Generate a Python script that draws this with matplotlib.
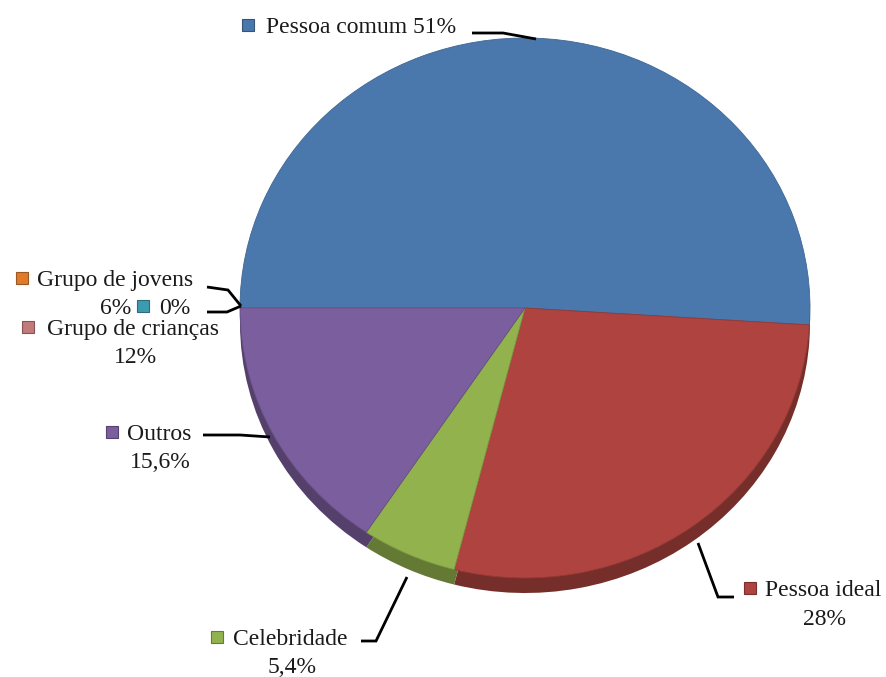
import matplotlib.pyplot as plt
from matplotlib.transforms import Affine2D
from matplotlib.colors import to_rgb

plt.rcParams['font.family'] = ['Liberation Serif', 'DejaVu Serif']

# slice data (clockwise from the 9 o'clock position)
categories = ['Pessoa comum', 'Pessoa ideal', 'Celebridade', 'Outros',
              'Grupo de crianças', '', 'Grupo de jovens']
values = [51, 28, 5.4, 15.6, 0, 0, 0]
value_labels = ['51%', '28%', '5,4%', '15,6%', '12%', '0%', '6%']
colors = ['#4a78ad', '#ae433f', '#91b24d', '#7b5e9d', '#c27a7a', '#3d9bb0', '#e07b2c']

H = 677

def py(y):
    # pixel row -> data y
    return H - y

def darker(c, f=0.55):
    return tuple(v * f for v in to_rgb(c))

fig = plt.figure(figsize=(8.86, 6.77), dpi=100)
ax = fig.add_axes([0, 0, 1, 1])

# tilted pie: elliptical top face plus a darker side underneath
cx, cy, rx, ry, depth = 525, py(308), 285, 270, 15
squash = Affine2D().translate(-cx, -cy).scale(1, ry / rx).translate(cx, cy)

side, _ = ax.pie(values, colors=[darker(c, 0.68) for c in colors], startangle=180,
                 counterclock=False, center=(cx, cy - depth * rx / ry), radius=rx,
                 wedgeprops=dict(linewidth=0))
face, _ = ax.pie(values, colors=colors, startangle=180, counterclock=False,
                 center=(cx, cy), radius=rx,
                 wedgeprops=dict(linewidth=0))
for w in side:
    w.set_transform(squash + ax.transData)
for w, c, v in zip(face, colors, values):
    w.set_transform(squash + ax.transData)
    if v > 0:
        w.set_edgecolor(darker(c, 0.85))
        w.set_linewidth(0.6)

ax.set_xlim(0, 886)
ax.set_ylim(0, H)
ax.set_aspect('equal')
ax.axis('off')

fs = 17
txt = dict(fontsize=fs, color='#1a1a1a', va='center_baseline')

def marker(x, y, c):
    ax.plot(x, py(y), 's', ms=9, color=c, mec=darker(c, 0.7), mew=0.8)

def leader(pts):
    xs = [p[0] for p in pts]
    ys = [py(p[1]) for p in pts]
    ax.plot(xs, ys, color='black', lw=2, solid_capstyle='butt', solid_joinstyle='miter')

# Pessoa comum
marker(248, 25, colors[0])
ax.text(266, py(25), f'{categories[0]} {value_labels[0]}', ha='left', **txt)
leader([(472, 33), (503, 33), (536, 39)])

# Pessoa ideal
marker(750, 588, colors[1])
ax.text(765, py(588), categories[1], ha='left', **txt)
ax.text(825, py(617), value_labels[1], ha='center', **txt)
leader([(698, 543), (718, 597), (734, 597)])

# Celebridade
marker(217, 637, colors[2])
ax.text(233, py(637), categories[2], ha='left', **txt)
ax.text(292, py(665), value_labels[2], ha='center', **txt)
leader([(407, 577), (376, 641), (361, 641)])

# Outros
marker(112, 432, colors[3])
ax.text(127, py(432), categories[3], ha='left', **txt)
ax.text(160, py(460), value_labels[3], ha='center', **txt)
leader([(203, 435), (240, 435), (270, 437)])

# Grupo de jovens
marker(22, 278, colors[6])
ax.text(37, py(278), categories[6], ha='left', **txt)
ax.text(116, py(306), value_labels[6], ha='center', **txt)
leader([(207, 287), (228, 290), (241, 306)])

# unnamed 0% slice
marker(143, 306, colors[5])
ax.text(159, py(306), value_labels[5], ha='left', **txt)
leader([(207, 312), (227, 312), (241, 306)])

# Grupo de crianças
marker(28, 327, colors[4])
ax.text(47, py(327), categories[4], ha='left', **txt)
ax.text(135, py(355), value_labels[4], ha='center', **txt)

fig.savefig('out.png', dpi=100)
